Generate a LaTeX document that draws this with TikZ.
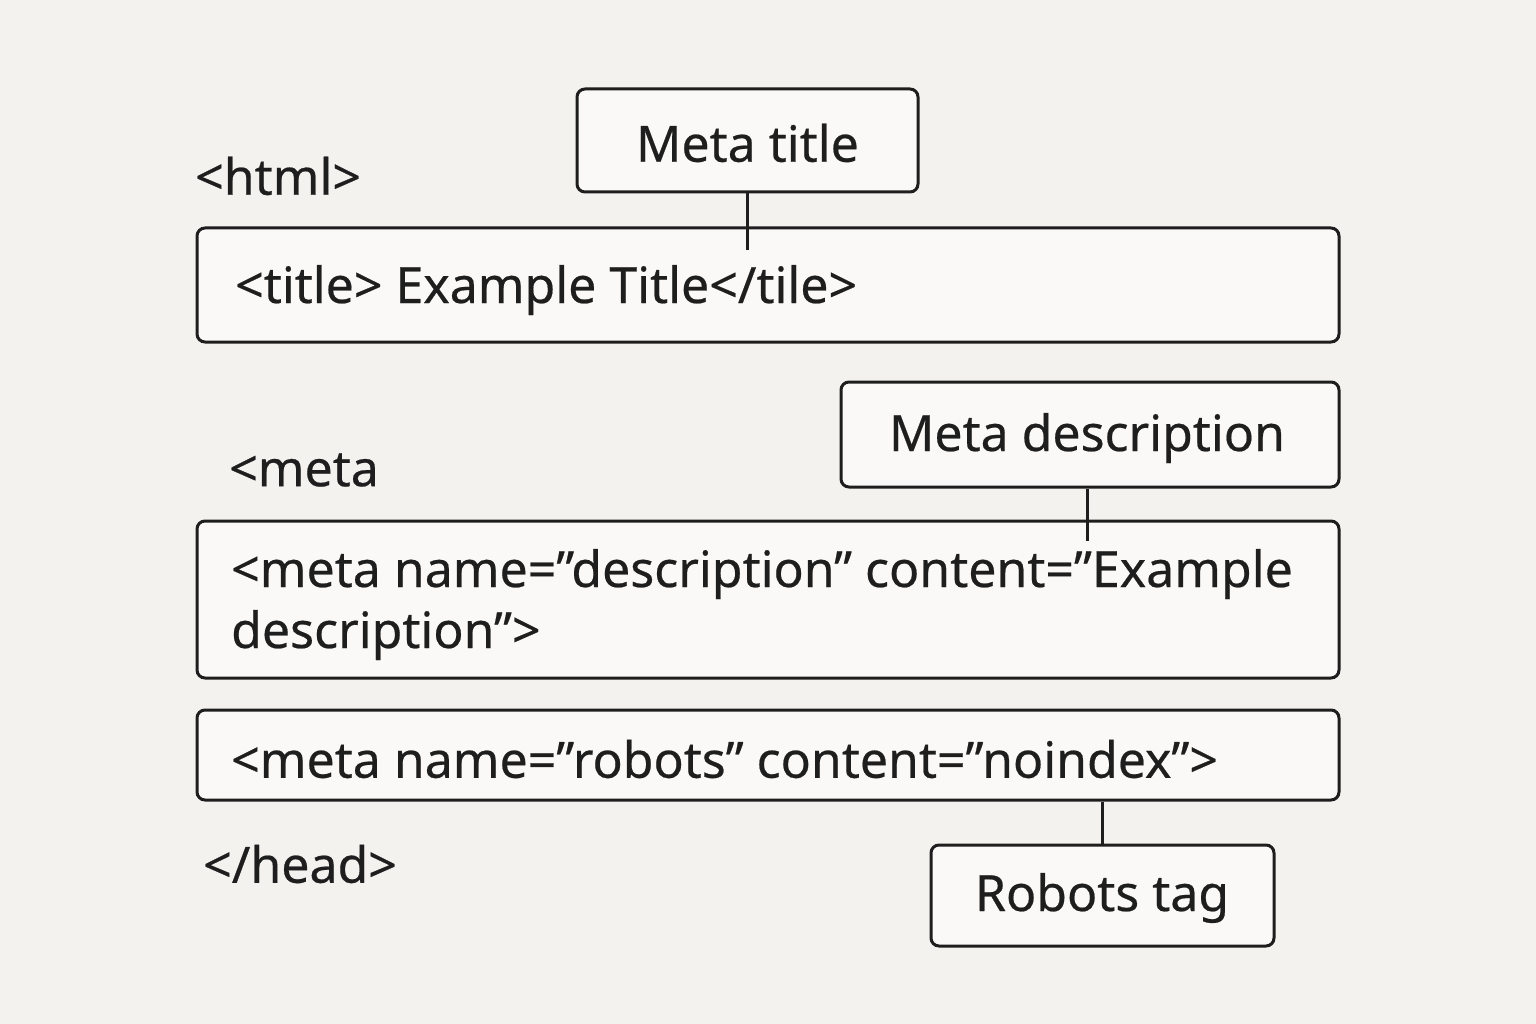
\documentclass[tikz,border=0pt]{standalone}
\usepackage{fontspec}
\setmainfont{Noto Sans}[FakeBold=0.4]
\newcommand{\qq}{\char34\relax}
\definecolor{bg}{HTML}{F4F2EF}
\definecolor{ink}{HTML}{1E1E1E}
\definecolor{boxfill}{HTML}{FAF9F7}
\begin{document}
\begin{tikzpicture}[x=1pt,y=-1pt,
  box/.style={draw=ink,line width=3pt,rounded corners=8pt,fill=boxfill,inner sep=0pt},
  txt/.style={text=ink,font=\fontsize{50}{60}\selectfont\bfseries,inner sep=0pt},
  conn/.style={draw=ink,line width=3pt}]
\fill[bg] (0,0) rectangle (1536,1024);
\useasboundingbox (0,0) rectangle (1536,1024);
% boxes
\node[box,minimum width=341pt,minimum height=103pt] (mt) at (747.5,140.5) {};
\node[box,minimum width=1142pt,minimum height=114pt] (tb) at (768,285) {};
\node[box,minimum width=498pt,minimum height=105pt] (md) at (1090,434.5) {};
\node[box,minimum width=1142pt,minimum height=157pt] (db) at (768,599.5) {};
\node[box,minimum width=1142pt,minimum height=90pt] (rb) at (768,755) {};
\node[box,minimum width=343pt,minimum height=101pt] (rt) at (1102.5,895.5) {};
% connectors
\coordinate (c1) at (747,250);
\coordinate (c2) at (1087,541);
\draw[conn] (mt.south -| c1) -- (c1);
\draw[conn] (md.south -| c2) -- (c2);
\draw[conn] (rb.south -| rt.north) -- (rt.north);
% labels
\node[txt] (mtt) at (747.5,143) {Meta title};
\node[txt] (mdt) at (1087,438) {Meta description};
\node[txt] (rtt) at (1102,898) {Robots tag};
\node[txt,anchor=west] (html) at (195,176) {<html>};
\node[txt,anchor=west] (meta) at (229,470) {<meta};
\node[txt,anchor=west] (head) at (203,864) {</head>};
\node[txt,anchor=west] (tt) at (235,290) {<title> Example Title</tile>};
\node[txt,anchor=west] (d1) at (231,574) {<meta name=\qq description\qq{} content=\qq Example};
\node[txt,anchor=west] (d2) at (231,635) {description\qq>};
\node[txt,anchor=west] (r1) at (231,759) {<meta name=\qq robots\qq{} content=\qq noindex\qq>};
\end{tikzpicture}
\end{document}
